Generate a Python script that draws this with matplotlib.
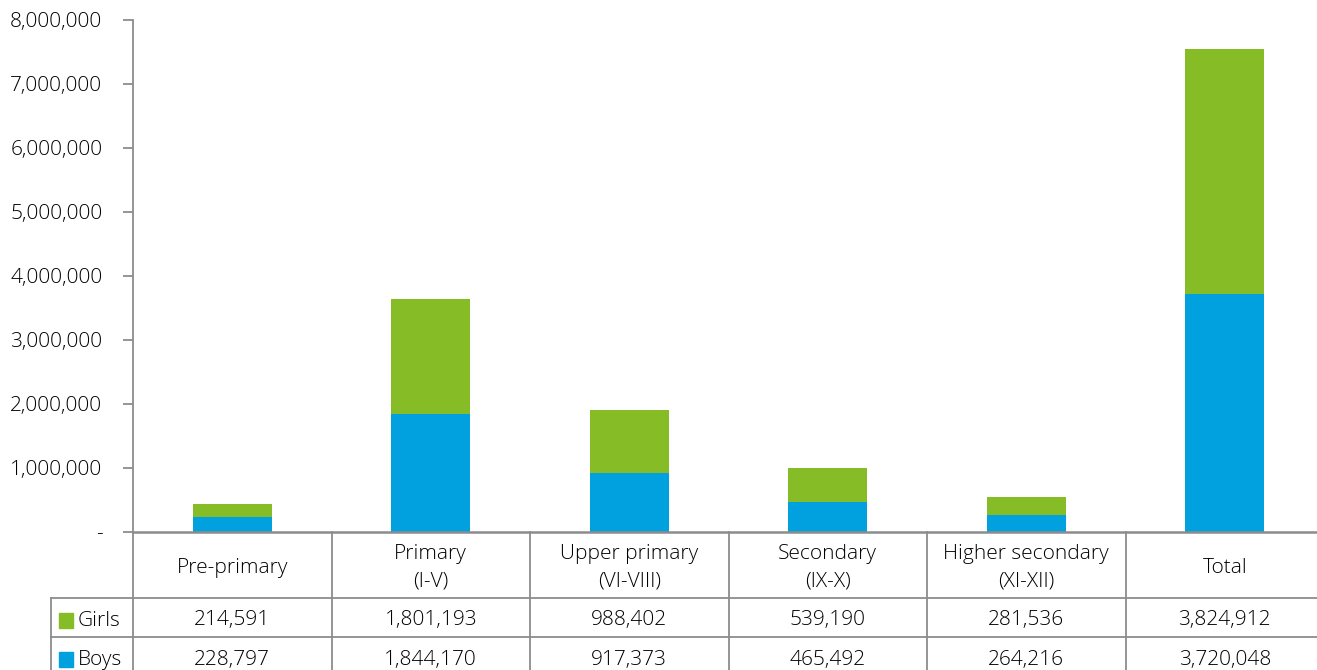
import matplotlib
matplotlib.use("Agg")
import matplotlib.pyplot as plt
from matplotlib.ticker import FuncFormatter
from matplotlib.patches import Rectangle

plt.rcParams['font.family'] = ['Open Sans', 'DejaVu Sans']
plt.rcParams['font.weight'] = 'light'

# data
categories = ["Pre-primary", "Primary\n(I-V)", "Upper primary\n(VI-VIII)",
              "Secondary\n(IX-X)", "Higher secondary\n(XI-XII)", "Total"]
girls = [214591, 1801193, 988402, 539190, 281536, 3824912]
boys = [228797, 1844170, 917373, 465492, 264216, 3720048]

green = "#86BC25"
blue = "#00A1DE"
line_col = "#8c8c8c"
txt_col = "#000000"
fs = 15

fig = plt.figure(figsize=(13.17, 6.7), dpi=100)
ax = fig.add_axes([133 / 1317, 1 - 532 / 670, 1191 / 1317, 512 / 670])

x = list(range(len(categories)))
ax.bar(x, boys, width=0.40, color=blue, zorder=2)
ax.bar(x, girls, width=0.40, bottom=boys, color=green, zorder=2)

ax.set_xlim(-0.5, len(categories) - 0.5)
ax.set_ylim(0, 8000000)
ax.set_yticks(range(0, 8000001, 1000000))
ax.yaxis.set_major_formatter(FuncFormatter(lambda v, p: "-" if v == 0 else f"{int(v):,}"))
ax.tick_params(axis='y', length=7, width=1.3, color=line_col, pad=15,
               labelsize=fs, labelcolor=txt_col)
ax.set_xticks([])
for s in ['top', 'right']:
    ax.spines[s].set_visible(False)
ax.spines['left'].set_color(line_col)
ax.spines['left'].set_linewidth(1.3)
ax.spines['bottom'].set_color(line_col)
ax.spines['bottom'].set_linewidth(1.8)

# data table under the axis
tr = ax.get_xaxis_transform()
h_head = 66 / 512
h_row = 39 / 512
y_head = -h_head
y_g = y_head - h_row
y_b = y_g - h_row
x_lab = -0.5 - 82 / 198.5
lw = 1.3
dy = 3 / 512

def hline(y, x0, x1):
    ax.plot([x0, x1], [y, y], color=line_col, lw=lw, transform=tr, clip_on=False)

def vline(xv, y0, y1):
    ax.plot([xv, xv], [y0, y1], color=line_col, lw=lw, transform=tr, clip_on=False)

hline(y_head, x_lab, len(categories) - 0.5)
hline(y_g, x_lab, len(categories) - 0.5)
hline(y_b, x_lab, len(categories) - 0.5)
vline(x_lab, y_head, y_b)
for i in range(len(categories) + 1):
    vline(i - 0.5, 0, y_b)

for i, c in enumerate(categories):
    ax.text(i, y_head / 2 - dy, c, ha='center', va='center', fontsize=fs,
            color=txt_col, transform=tr, linespacing=1.5)
    ax.text(i, y_head - h_row / 2 - dy, f"{girls[i]:,}", ha='center', va='center',
            fontsize=fs, color=txt_col, transform=tr)
    ax.text(i, y_g - h_row / 2 - dy, f"{boys[i]:,}", ha='center', va='center',
            fontsize=fs, color=txt_col, transform=tr)

for yc, name, col in [(y_head - h_row / 2, "Girls", green), (y_g - h_row / 2, "Boys", blue)]:
    ax.add_patch(Rectangle((x_lab + 0.04, yc - 0.014 - dy), 0.072, 0.028, color=col,
                           transform=tr, clip_on=False))
    ax.text(x_lab + 0.135, yc - dy, name, ha='left', va='center', fontsize=fs,
            color=txt_col, transform=tr)

fig.savefig("out.png", dpi=100)
